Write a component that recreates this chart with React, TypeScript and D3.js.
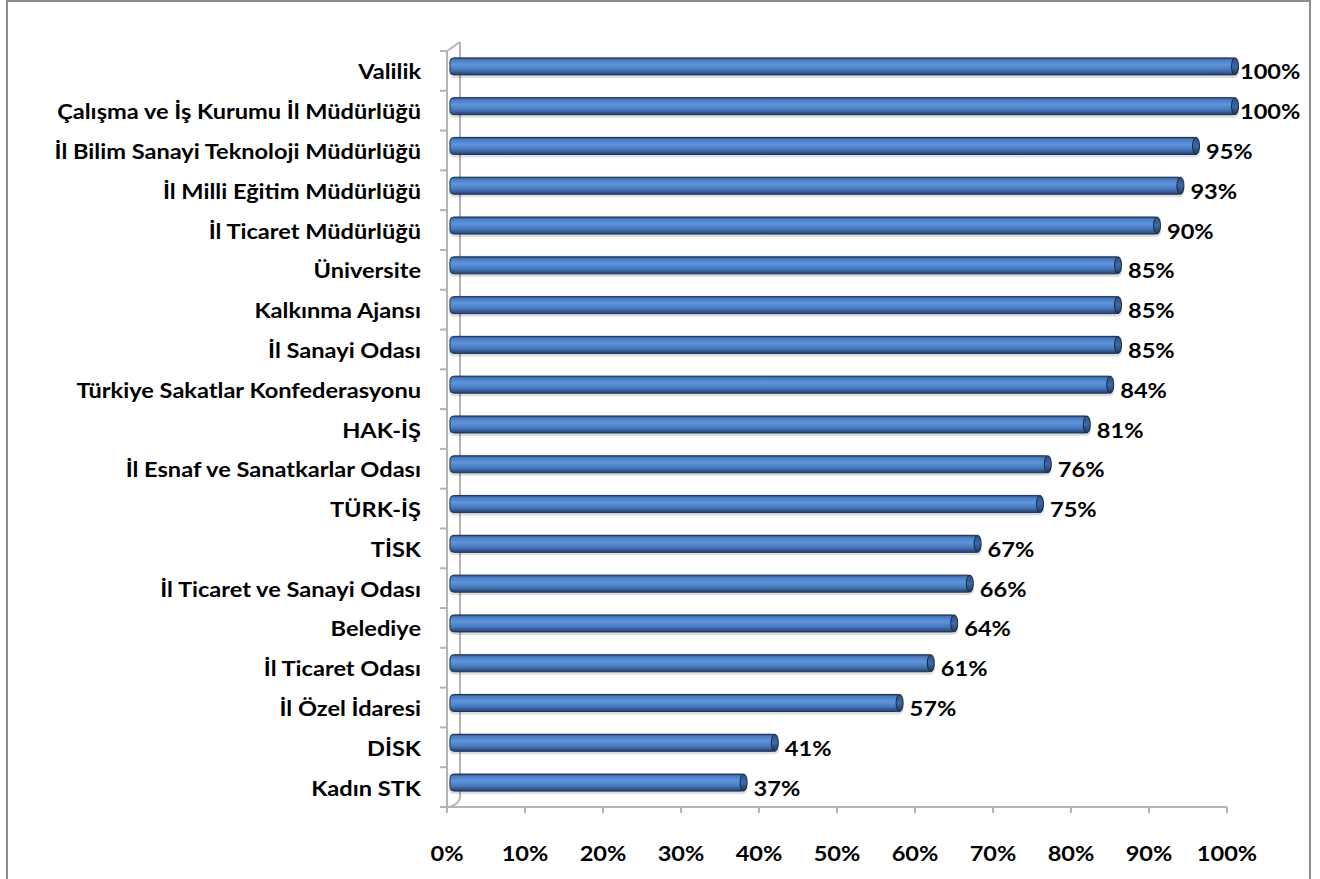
import React from "react";
import * as d3 from "d3";

// kurumlar (yukarıdan aşağıya)
const categories = [
  "Valilik",
  "Çalışma ve İş Kurumu İl Müdürlüğü",
  "İl Bilim Sanayi Teknoloji Müdürlüğü",
  "İl Milli Eğitim Müdürlüğü",
  "İl Ticaret Müdürlüğü",
  "Üniversite",
  "Kalkınma Ajansı",
  "İl Sanayi Odası",
  "Türkiye Sakatlar Konfederasyonu",
  "HAK-İŞ",
  "İl Esnaf ve Sanatkarlar Odası",
  "TÜRK-İŞ",
  "TİSK",
  "İl Ticaret ve Sanayi Odası",
  "Belediye",
  "İl Ticaret Odası",
  "İl Özel İdaresi",
  "DİSK",
  "Kadın STK",
];
const values = [100, 100, 95, 93, 90, 85, 85, 85, 84, 81, 76, 75, 67, 66, 64, 61, 57, 41, 37];
const ticks = [0, 10, 20, 30, 40, 50, 60, 70, 80, 90, 100];

const W = 1320;
const H = 879;
const FONT = "Lato, 'Open Sans', sans-serif";

// Calibri-benzeri geniş görünüm için yatayda biraz esnetilmiş yazı
const Label = ({ x, y, anchor = "start", children }: { x: number; y: number; anchor?: string; children: React.ReactNode }) => (
  <text
    transform={`translate(${x},${y}) scale(1.18,1)`}
    textAnchor={anchor}
    fontFamily={FONT}
    fontWeight="bold"
    fontSize={20}
    fill="#000"
  >
    {children}
  </text>
);

export default function App() {
  const x = d3.scaleLinear().domain([0, 100]).range([447, 1227]);
  const y = d3.scaleBand<string>().domain(categories).range([51, 807]).padding(0);
  const depthX = 10;
  const depthY = -4.5;
  const barH = 17;
  const axisY = 807;
  const fmt = (v: number) => `${v}%`;

  return (
    <svg width={W} height={H} style={{ position: "absolute", left: 0, top: 0, background: "#fff" }}>
      <defs>
        <linearGradient id="cyl" x1="0" y1="0" x2="0" y2="1">
          <stop offset="0" stopColor="#2b4c7a" />
          <stop offset="0.12" stopColor="#4a7cc2" />
          <stop offset="0.4" stopColor="#5f94dc" />
          <stop offset="0.72" stopColor="#4677bc" />
          <stop offset="1" stopColor="#243f68" />
        </linearGradient>
        <linearGradient id="cap" x1="0" y1="0" x2="0" y2="1">
          <stop offset="0" stopColor="#2c4f82" />
          <stop offset="0.5" stopColor="#3d6aa8" />
          <stop offset="1" stopColor="#1e365a" />
        </linearGradient>
      </defs>

      {/* çerçeve */}
      <rect x={7} y={1} width={1303} height={H + 10} fill="none" stroke="#8c8c8c" strokeWidth={2} />

      {/* 3B duvar ve eksenler */}
      <g stroke="#b4b4b4" strokeWidth={2} fill="none">
        <line x1={447} y1={51} x2={447} y2={axisY} />
        <line x1={460} y1={42} x2={460} y2={797} />
        <line x1={447} y1={51} x2={460} y2={42} />
        <path d={`M460,797 Q460,803 450,${axisY}`} />
        <line x1={447} y1={axisY} x2={1227} y2={axisY} />
        {categories.map((c) => (
          <line key={c} x1={440} x2={447} y1={y(c)!} y2={y(c)!} />
        ))}
        <line x1={440} x2={447} y1={axisY} y2={axisY} />
        {ticks.map((t) => (
          <line key={t} x1={x(t)} x2={x(t)} y1={axisY} y2={axisY + 6} />
        ))}
      </g>

      {/* çubuklar */}
      {categories.map((c, i) => {
        const cy = y(c)! + y.bandwidth() / 2 + depthY;
        const x0 = 450;
        const x1 = x(values[i]) + depthX;
        const top = cy - barH / 2;
        return (
          <g key={c}>
            <rect x={x0 - 1} y={top - 1} width={x1 - x0 + 3} height={barH + 4} rx={5} fill="#000" opacity={0.13} />
            <rect x={x0} y={top} width={x1 - x0} height={barH} rx={4} fill="url(#cyl)" stroke="#1f3557" strokeWidth={1} />
            <ellipse cx={x1 - 2} cy={cy} rx={3.5} ry={barH / 2} fill="url(#cap)" stroke="#17293f" strokeWidth={1} />
            <Label x={x1 + (values[i] >= 100 ? 3 : 8)} y={cy + 13}>
              {fmt(values[i])}
            </Label>
            <Label x={421} y={cy + 13} anchor="end">
              {c}
            </Label>
          </g>
        );
      })}

      {/* x ekseni etiketleri */}
      {ticks.map((t) => (
        <Label key={t} x={x(t)} y={861} anchor="middle">
          {fmt(t)}
        </Label>
      ))}
    </svg>
  );
}
